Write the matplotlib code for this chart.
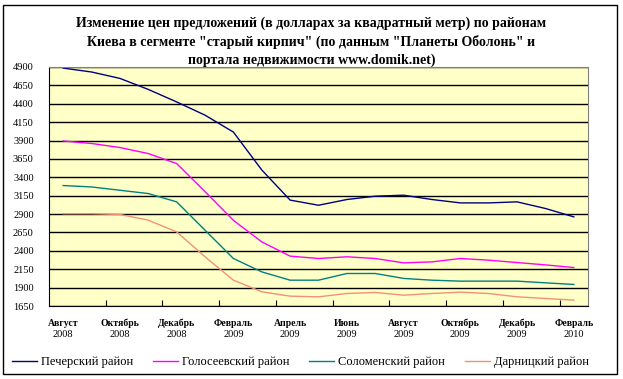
import numpy as np
import matplotlib
matplotlib.use('Agg')
import matplotlib.pyplot as plt
import matplotlib.transforms as mtransforms
from matplotlib.patches import Rectangle

plt.rcParams['font.family'] = ['Liberation Serif', 'DejaVu Serif']

months = ['Август', '', 'Октябрь', '', 'Декабрь', '', 'Февраль', '',
          'Апрель', '', 'Июнь', '', 'Август', '', 'Октябрь', '',
          'Декабрь', '', 'Февраль']
years = ['2008', '', '2008', '', '2008', '', '2009', '', '2009', '', '2009', '',
         '2009', '', '2009', '', '2009', '', '2010']

pechersk = [4885, 4832, 4745, 4595, 4425, 4245, 4015, 3500, 3090, 3020, 3098,
            3143, 3157, 3098, 3052, 3052, 3066, 2976, 2862]
holosiiv = [3894, 3860, 3805, 3723, 3587, 3205, 2815, 2522, 2328, 2296, 2319,
            2296, 2237, 2250, 2296, 2273, 2241, 2209, 2173]
solomen = [3288, 3269, 3224, 3179, 3066, 2681, 2296, 2114, 2001, 2001, 2092,
           2092, 2025, 2001, 1988, 1988, 1988, 1965, 1943]
darnytsia = [2905, 2905, 2895, 2817, 2658, 2319, 2001, 1843, 1784, 1775, 1820,
             1834, 1797, 1820, 1838, 1820, 1775, 1752, 1730]

names = ['Печерский район', 'Голосеевский район', 'Соломенский район', 'Дарницкий район']
colors = ['#000080', '#FF00FF', '#008080', '#F4907A']

yticks = list(range(1650, 4901, 250))

fig = plt.figure(figsize=(6.23, 3.79), dpi=100)
ax = fig.add_axes([49 / 623, 1 - 306 / 379, (588 - 49) / 623, (306 - 67) / 379])
ax.set_facecolor('#FFFFC8')

x = np.arange(len(months))
for ser, c, n in zip([pechersk, holosiiv, solomen, darnytsia], colors, names):
    ax.plot(x, ser, color=c, lw=1.0, label=n)

ax.set_xlim(-0.5, len(months) - 0.5)
ax.set_ylim(1650, 4900)
ax.set_yticks(yticks)
ax.set_yticklabels([str(v) for v in yticks], fontsize=7.5)
ax.yaxis.grid(True, color='black', lw=1.0)
ax.set_axisbelow(True)
ax.tick_params(axis='y', length=0, pad=11)

# category ticks sit between every second month
ax.set_xticks(np.arange(1.5, len(months) - 1, 2))
ax.set_xticklabels([])
ax.tick_params(axis='x', which='major', direction='in', length=4, color='black')

# month names bold, years plain, under each labelled month
trans = mtransforms.blended_transform_factory(ax.transData, ax.transAxes)
for xi, m, yr in zip(x, months, years):
    if m:
        ax.text(xi, -0.072, m, transform=trans, ha='center', va='center',
                fontsize=7, fontweight='bold')
        ax.text(xi, -0.12, yr, transform=trans, ha='center', va='center', fontsize=7.5)

for s in ax.spines.values():
    s.set_color('#808080')
    s.set_linewidth(0.8)
ax.spines['left'].set_color('black')
ax.spines['bottom'].set_color('black')

fig.text(0.5, 0.957, 'Изменение цен предложений (в долларах за квадратный метр) по районам\n'
         'Киева в сегменте "старый кирпич" (по данным "Планеты Оболонь" и\n'
         'портала недвижимости www.domik.net)',
         ha='center', va='top', fontsize=10, fontweight='bold', linespacing=1.45)

fig.legend(loc='center', bbox_to_anchor=(0.482, 0.045), ncol=4, frameon=False,
           fontsize=9, handlelength=2.0, handletextpad=0.3, columnspacing=1.6)

fig.patches.append(Rectangle((3 / 623, 5 / 379), 614 / 623, 369 / 379, transform=fig.transFigure,
                             fill=False, edgecolor='black', lw=1.0))

fig.savefig('out.png', dpi=100)
